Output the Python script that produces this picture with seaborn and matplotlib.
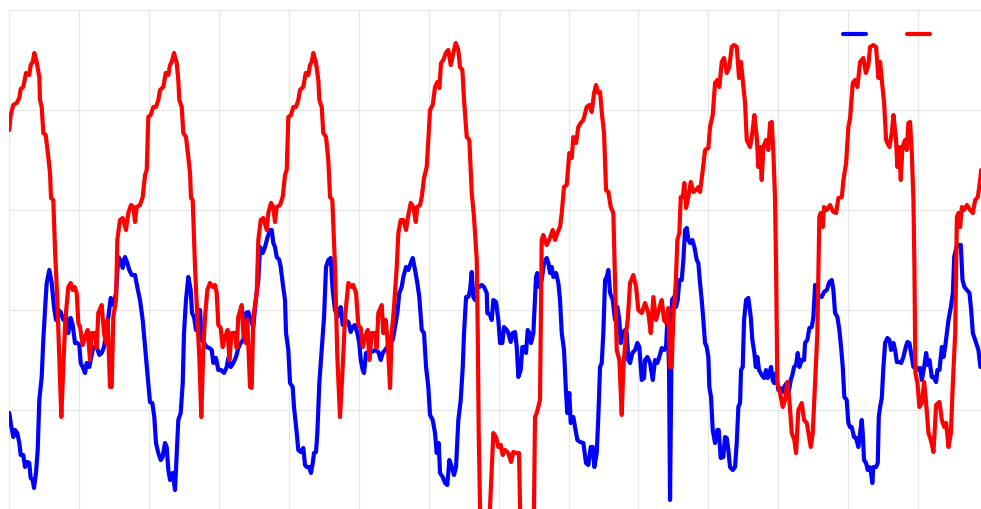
import numpy as np
import pandas as pd
import seaborn as sns
import matplotlib
matplotlib.use('Agg')
import matplotlib.pyplot as plt

# hours since start / value
red_hours = [
    0.0, 0.24, 0.69, 1.27, 1.72, 1.96, 2.40, 2.87, 3.43, 3.67,
    4.02, 4.29, 4.70, 5.15, 5.27, 5.56, 5.84, 6.25, 6.70, 6.99,
    7.16, 7.55, 7.85, 8.24, 8.58, 8.93, 9.27, 9.61, 10.13, 10.54,
    10.88, 11.23, 11.57, 11.85, 12.14, 12.60, 13.00, 13.46, 13.85, 14.15,
    14.71, 15.00, 15.28, 15.86, 16.26, 16.60, 16.89, 17.29, 17.58, 17.85,
    18.32, 18.54, 19.00, 19.47, 20.03, 20.43, 20.89, 21.29, 21.58, 21.87,
    22.44, 22.90, 23.30, 23.59, 23.86, 24.27, 24.72, 25.18, 25.58, 25.87,
    26.44, 26.85, 27.30, 27.59, 27.88, 28.27,
    28.74, 29.01, 29.18, 29.60, 29.87, 30.33, 30.73, 31.02, 31.19, 31.48,
    31.88, 32.27, 32.62, 32.96, 33.30, 33.60, 33.99, 34.45, 34.92, 35.31,
    35.60, 35.88, 36.29, 36.63, 37.03, 37.49, 37.77, 38.18, 38.75, 39.04,
    39.31, 39.90, 40.17, 40.58, 40.86, 41.32, 41.61, 41.89, 42.47, 42.75,
    43.16, 43.60, 44.19, 44.46, 44.93, 45.32, 45.61, 45.90, 46.47, 46.93,
    47.33, 47.62, 47.90, 48.36, 48.75, 49.22, 49.61, 49.90, 50.47, 50.88,
    51.33, 51.62, 51.91, 52.19,
    52.65, 53.05, 53.22, 53.63, 53.90, 54.37, 54.76, 55.06, 55.45, 55.91,
    56.31, 56.77, 57.23, 57.63, 58.20, 58.78, 59.05, 59.52, 59.91, 60.33,
    60.67, 61.06, 61.53, 61.80, 62.21, 62.78, 63.07, 63.35, 63.93, 64.21,
    64.62, 64.96, 65.36, 65.65, 66.04, 66.51, 66.78, 67.19, 67.64, 68.10,
    68.50, 68.91, 69.36, 69.77, 70.04, 70.51, 70.80, 71.19, 71.65, 71.93,
    72.22, 72.68, 73.08, 73.47, 73.82, 74.11, 74.51, 74.92, 75.36, 75.78,
    76.22, 76.63, 77.08, 77.37, 77.77, 78.06, 78.52, 78.97, 79.38, 79.77,
    80.24, 80.41, 80.58, 80.80, 80.98, 82.35, 82.52, 83.09, 83.55, 83.95,
    84.36, 84.70, 85.10, 85.66, 86.13, 86.52, 87.11, 87.50, 87.67, 87.84,
    89.90, 90.07, 90.24, 90.54, 91.10, 91.27, 91.39, 91.67, 92.25, 92.82,
    93.28, 93.68, 94.08, 94.54, 94.83, 95.22, 95.69, 96.13, 96.55, 96.82,
    97.29, 97.68, 98.09, 98.54, 99.12, 99.57, 99.98, 100.38, 100.72, 101.11,
    101.41, 101.75, 102.09, 102.44, 102.83, 103.24, 103.69, 103.98, 104.27, 104.72,
    105.13, 105.41, 105.87, 106.16, 106.56, 107.12, 107.59, 107.98, 108.57, 109.13,
    109.70, 110.11, 110.56, 111.02, 111.59, 112.00, 112.39, 112.74, 113.13, 113.42,
    113.71, 113.99, 114.40, 114.68, 115.02, 115.26, 115.60, 115.88, 116.17, 116.56,
    116.98, 117.42, 117.89, 118.28, 118.57, 119.04, 119.43, 120.00, 120.29, 120.75,
    121.15, 121.54, 121.89, 122.30, 122.69, 123.16, 123.60, 124.01, 124.41, 124.87,
    125.27, 125.61, 125.90, 126.30, 126.59, 127.16, 127.55, 127.90, 128.31, 128.58,
    128.87, 129.16, 129.44, 129.90, 130.30, 130.59, 130.88, 131.16, 131.45, 131.62,
    131.74, 131.84, 132.31, 132.77, 133.16, 133.56, 133.90, 134.32, 134.76, 135.05,
    135.45, 136.03, 136.43, 136.89, 137.58, 137.92, 138.32, 138.71, 139.05, 139.29,
    139.64, 139.86, 140.33, 140.89, 141.46, 141.93, 142.32, 142.91, 143.18, 143.65,
    144.03, 144.33, 144.79, 145.19, 145.58, 146.05, 146.61, 147.03, 147.47, 147.76,
    148.33, 148.79, 149.19, 149.48, 149.77, 150.17, 150.51, 151.08, 151.49, 151.77,
    152.18, 152.45, 152.74, 153.03, 153.31, 153.77, 154.06, 154.34, 154.63, 154.92,
    155.20, 155.37, 155.54, 155.89, 156.23, 156.64, 157.04, 157.38, 157.78, 158.19,
    158.64, 159.10, 159.67, 160.08, 160.48, 160.82, 161.22, 161.63, 161.97, 162.37,
    162.66, 162.93, 163.22, 163.51, 163.91, 164.37, 164.94, 165.40, 165.80, 166.26,
    166.66, 166.83,
]
red_values = [
    38.0, 39.5, 40.5, 40.7, 41.2, 42.1, 42.3, 43.7, 43.5, 44.5,
    44.8, 45.7, 44.8, 43.3, 41.0, 40.3, 37.7, 37.5, 35.3, 33.7,
    31.2, 31.0, 26.0, 21.0, 15.3, 9.3, 14.3, 19.0, 22.3, 22.7,
    22.0, 22.3, 21.7, 18.7, 18.3, 16.5, 17.3, 18.0, 15.0, 17.7,
    17.7, 16.2, 19.7, 20.5, 17.7, 16.7, 19.0, 12.3, 12.3, 19.3,
    21.0, 27.0, 29.0, 29.2, 28.0, 29.7, 30.5, 30.3, 28.8, 30.3,
    30.5, 31.3, 33.5, 34.0, 39.3, 39.5, 40.3, 40.3, 41.0, 42.0,
    42.3, 43.7, 43.5, 44.5, 44.8, 45.7,
    44.7, 43.0, 41.0, 40.3, 37.7, 37.3, 35.3, 33.7, 31.2, 31.0,
    24.3, 19.3, 15.3, 9.3, 16.0, 19.3, 22.0, 22.7, 22.3, 22.5,
    21.7, 18.5, 18.2, 16.3, 17.3, 18.0, 15.0, 17.7, 17.7, 16.2,
    19.3, 20.5, 17.7, 16.7, 19.0, 12.3, 12.2, 19.3, 21.7, 27.0,
    29.0, 29.2, 28.0, 29.7, 30.7, 30.3, 28.8, 30.3, 30.5, 31.3,
    33.5, 34.0, 39.3, 39.5, 40.3, 40.3, 41.0, 42.0, 42.3, 43.7,
    43.5, 44.5, 44.8, 45.7,
    44.7, 43.0, 41.0, 40.3, 37.7, 37.3, 35.0, 31.3, 31.0, 24.3,
    15.3, 9.3, 14.3, 19.3, 22.7, 22.3, 22.5, 21.7, 18.5, 18.2,
    16.3, 17.3, 18.0, 15.0, 17.7, 17.7, 16.2, 19.7, 20.5, 17.7,
    19.0, 16.7, 12.2, 17.7, 20.3, 24.3, 27.7, 29.0, 29.0, 28.0,
    29.5, 30.7, 30.3, 28.8, 30.3, 30.5, 31.3, 33.2, 34.3, 37.0,
    40.0, 40.5, 42.3, 42.8, 42.2, 44.7, 45.0, 45.7, 46.0, 44.5,
    45.7, 46.7, 46.0, 44.3, 44.0, 41.0, 37.3, 37.0, 31.7, 29.3,
    25.0, 17.7, 7.7, 0.3, -3.0, -3.0, 0.3, 7.7, 7.3, 6.3,
    6.5, 5.5, 6.0, 5.7, 4.8, 5.8, 5.7, 5.7, 0.3, -3.0,
    -3.0, 0.3, 9.3, 9.7, 11.0, 21.0, 27.0, 27.5, 26.5, 27.2,
    28.0, 27.0, 27.7, 28.3, 29.7, 32.3, 32.5, 35.7, 35.2, 37.3,
    36.7, 38.3, 38.7, 39.0, 40.3, 40.5, 39.8, 41.7, 42.5, 41.7,
    41.8, 39.5, 37.7, 32.0, 31.8, 30.3, 29.7, 22.7, 16.0, 15.0,
    9.5, 14.3, 17.7, 19.0, 22.7, 23.5, 22.3, 20.0, 19.7, 20.7,
    19.7, 17.7, 21.3, 19.0, 20.2, 21.0, 19.0, 18.7, 20.2, 14.3,
    14.3, 19.3, 22.7, 27.0, 27.7, 31.3, 31.3, 32.7, 30.2, 31.3,
    32.8, 31.8, 32.0, 32.3, 31.8, 34.0, 36.0, 36.2, 38.3, 39.5,
    42.7, 43.0, 42.3, 44.8, 45.2, 43.7, 44.3, 46.3, 46.5, 46.3,
    43.2, 44.8, 43.0, 40.7, 37.0, 36.3, 37.7, 39.5, 37.3, 34.3,
    36.3, 33.0, 36.3, 37.0, 36.0, 38.7, 38.8, 35.7, 31.0, 24.3,
    17.7, 12.7, 11.7, 10.3, 11.0, 12.8, 11.0, 7.7, 7.0, 5.7,
    10.0, 10.7, 9.0, 8.7, 6.3, 7.7, 12.7, 17.7, 29.3, 29.7,
    28.3, 30.3, 30.0, 30.5, 29.8, 29.7, 31.2, 31.3, 33.0, 34.7,
    38.3, 39.2, 42.7, 43.0, 42.3, 44.8, 45.2, 43.7, 44.5, 46.3,
    46.5, 46.3, 43.2, 44.8, 43.0, 40.7, 37.0, 36.3, 37.7, 39.5,
    37.3, 34.3, 36.3, 33.0, 36.3, 37.0, 36.0, 38.7, 38.8, 35.7,
    31.0, 24.3, 13.7, 12.7, 10.3, 10.7, 12.8, 10.7, 7.7, 7.0,
    5.8, 10.5, 10.8, 9.0, 8.3, 8.7, 6.3, 7.7, 12.7, 17.7,
    29.3, 29.7, 28.3, 30.3, 30.0, 30.5, 30.0, 29.7, 31.0, 31.3,
    33.0, 34.0,
]

blue_hours = [
    0.0, 0.24, 0.69, 0.98, 1.37, 1.72, 1.96, 2.40, 2.70, 3.09,
    3.43, 3.67, 4.02, 4.24, 4.58, 4.88, 5.15, 5.56, 5.84, 6.13,
    6.42, 6.87, 7.28, 7.67, 8.02, 8.41, 8.82, 9.27, 9.73, 10.13,
    10.54, 10.88, 11.28, 11.67, 12.02, 12.26, 12.60, 13.00, 13.29, 13.73,
    13.97, 14.42, 15.00, 15.45, 15.86, 16.26, 16.60, 17.00, 17.41, 17.85,
    18.32, 18.71, 19.12, 19.47, 19.86, 20.26, 20.60, 21.01, 21.58, 21.97,
    22.44, 22.90, 23.30, 23.76, 24.15, 24.55, 24.89, 25.18, 25.58, 25.99,
    26.33, 26.73, 27.02, 27.30, 27.59, 28.05, 28.45, 28.74, 29.01, 29.42,
    29.77, 29.99, 30.33, 30.73, 31.14, 31.36, 31.71, 32.05, 32.45, 32.74,
    33.03, 33.42, 33.89, 34.33, 34.75, 35.02, 35.48, 35.88, 36.34, 36.86,
    37.32, 37.60, 38.01, 38.45, 38.92, 39.31, 39.72, 40.17, 40.63, 41.03,
    41.44, 41.89, 42.30, 42.75, 43.04, 43.50, 43.90, 44.29, 44.75, 45.05,
    45.32, 45.61, 45.90, 46.35, 46.59, 46.93, 47.33, 47.50, 47.90, 48.19,
    48.65, 48.87, 49.34, 49.61, 50.02, 50.47, 50.76, 51.05, 51.45, 51.79,
    52.09, 52.31, 52.65, 52.88, 53.22, 53.63, 54.03, 54.37, 54.76, 55.17,
    55.51, 55.91, 56.31, 56.65, 56.89, 57.23, 57.63, 58.20, 58.61, 58.95,
    59.35, 59.74, 60.08, 60.33, 60.67, 60.89, 61.24, 61.63, 62.21, 62.78,
    63.35, 63.76, 64.10, 64.50, 64.89, 65.36, 65.82, 66.21, 66.61, 66.95,
    67.36, 67.64, 68.10, 68.50, 68.79, 69.25, 69.65, 70.04, 70.38, 70.80,
    71.19, 71.54, 71.93, 72.22, 72.68, 73.08, 73.37, 73.71, 73.94, 74.40,
    74.80, 75.19, 75.54, 75.95, 76.34, 76.69, 77.08, 77.49, 77.84, 78.06,
    78.41, 78.80, 79.09, 79.38, 79.65, 79.94, 80.34, 80.68, 81.10, 81.49,
    81.96, 82.06, 82.52, 82.81, 83.09, 83.55, 83.95, 84.24, 84.63, 84.92,
    85.39, 85.66, 86.07, 86.42, 86.81, 87.11, 87.38, 87.79, 88.07, 88.41,
    88.70, 88.99, 89.27, 89.56, 89.96, 90.42, 90.64, 90.98, 91.39, 91.79,
    92.25, 92.53, 92.82, 93.11, 93.39, 93.85, 94.25, 94.54, 94.83, 95.22,
    95.57, 95.79, 96.13, 96.37, 96.82, 97.11, 97.51, 97.97, 98.54, 99.00,
    99.40, 99.81, 100.15, 100.43, 100.84, 101.11, 101.41, 101.70, 101.97, 102.27,
    102.56, 102.83, 103.13, 103.59, 103.98, 104.38, 104.72, 104.96, 105.30, 105.70,
    105.99, 106.26, 106.56, 106.95, 107.42, 107.81, 108.15, 108.57, 108.96, 109.13,
    109.53, 109.99, 110.45, 110.85, 111.24, 111.59, 112.00, 112.39, 112.74, 112.96,
    113.25, 113.42, 113.59, 113.76, 114.10, 114.45, 114.74, 115.02, 115.43, 115.71,
    116.00, 116.29, 116.57, 116.86, 117.25, 117.60, 118.01, 118.28, 118.57, 118.86,
    119.14, 119.43, 119.72, 120.00, 120.17, 120.46, 120.75, 121.15, 121.54, 121.78,
    122.12, 122.57, 122.86, 123.16, 123.43, 123.72, 124.19, 124.58, 124.87, 125.15,
    125.44, 125.61, 125.90, 126.13, 126.47, 126.86, 127.28, 127.55, 127.90, 128.14,
    128.41, 128.70, 129.16, 129.56, 129.90, 130.19, 130.47, 130.76, 131.05, 131.28,
    131.62, 132.02, 132.31, 132.77, 133.00, 133.46, 133.80, 134.14, 134.42, 134.71,
    135.05, 135.34, 135.62, 136.03, 136.43, 136.60, 136.99, 137.34, 137.75, 138.03,
    138.32, 138.61, 138.88, 139.46, 139.86, 140.33, 140.77, 141.18, 141.46, 141.75,
    142.15, 142.49, 142.78, 143.07, 143.34, 143.75, 144.03, 144.32, 144.61, 145.00,
    145.35, 145.75, 146.04, 146.33, 146.50, 146.72, 147.07, 147.36, 147.64, 147.93,
    148.15, 148.32, 148.79, 149.08, 149.25, 149.48, 149.77, 150.05, 150.34, 150.74,
    151.08, 151.37, 151.77, 152.06, 152.35, 152.74, 153.09, 153.48, 153.89, 154.17,
    154.51, 154.80, 155.20, 155.66, 156.06, 156.35, 156.64, 157.04, 157.38, 157.67,
    157.95, 158.36, 158.64, 159.10, 159.32, 159.67, 159.91, 160.08, 160.36, 160.65,
    160.94, 161.22, 161.63, 161.97, 162.20, 162.54, 162.93, 163.34, 163.62, 163.96,
    164.37, 164.82, 165.11, 165.40, 165.62, 165.97, 166.36, 166.70,
]
blue_values = [
    9.7, 8.7, 7.3, 8.0, 7.7, 6.7, 5.5, 5.5, 4.3, 4.8,
    4.7, 3.2, 3.0, 2.2, 3.7, 6.0, 11.0, 13.3, 17.0, 20.0,
    22.7, 24.0, 22.7, 20.3, 19.0, 20.0, 19.8, 19.0, 19.5, 17.7,
    19.2, 18.5, 16.7, 16.7, 16.5, 14.7, 14.3, 13.7, 14.7, 14.3,
    15.0, 16.3, 16.3, 15.5, 15.7, 16.3, 17.7, 19.3, 21.2, 20.5,
    21.7, 25.3, 25.0, 24.2, 25.3, 24.7, 24.0, 23.5, 23.5, 22.3,
    21.0, 19.0, 16.3, 13.3, 10.8, 10.7, 9.3, 6.7, 5.7, 5.0,
    5.3, 6.7, 6.3, 4.0, 3.0, 3.7, 2.0, 5.7, 9.0, 9.7,
    12.7, 17.7, 21.0, 23.3, 22.0, 19.7, 19.3, 18.0, 19.0, 20.0,
    17.0, 16.7, 16.3, 16.2, 16.0, 14.7, 15.2, 14.0, 14.0, 13.7,
    14.3, 15.2, 14.3, 14.7, 15.3, 16.2, 16.7, 17.0, 19.7, 19.8,
    19.0, 18.3, 21.0, 23.0, 26.3, 25.7, 26.3, 27.2, 28.0, 28.0,
    26.7, 26.3, 25.3, 25.0, 24.3, 22.7, 21.0, 17.7, 16.0, 12.7,
    12.3, 10.3, 7.7, 6.0, 5.8, 6.2, 4.5, 4.3, 4.3, 3.7,
    4.7, 5.7, 5.8, 7.7, 12.7, 16.0, 19.3, 24.3, 25.0, 25.2,
    22.0, 20.0, 19.3, 20.0, 20.3, 18.5, 19.0, 18.8, 17.8, 18.3,
    18.5, 17.7, 16.7, 15.0, 14.0, 13.7, 15.7, 15.8, 15.8, 16.0,
    15.8, 15.0, 15.7, 16.0, 16.3, 17.3, 17.0, 18.3, 19.7, 21.7,
    22.3, 23.3, 24.3, 24.0, 24.5, 25.2, 24.0, 22.7, 21.3, 18.0,
    17.7, 14.3, 12.3, 9.5, 9.0, 7.7, 5.7, 6.7, 3.7, 3.3,
    2.7, 2.5, 5.0, 4.3, 3.5, 4.3, 9.0, 11.0, 14.3, 17.7,
    21.3, 21.3, 22.0, 23.8, 21.3, 21.0, 22.5, 22.3, 22.5, 22.3,
    21.7, 19.7, 19.5, 19.0, 21.0, 20.8, 19.0, 16.7, 16.7, 18.3,
    18.0, 17.7, 16.8, 17.7, 17.8, 16.3, 13.3, 14.0, 16.3, 16.3,
    15.7, 18.0, 17.7, 16.7, 17.7, 23.3, 23.7, 22.3, 23.0, 24.7,
    25.2, 24.7, 23.7, 24.3, 23.3, 23.7, 22.7, 21.0, 17.7, 16.0,
    11.7, 9.7, 11.7, 8.7, 9.3, 8.3, 7.0, 6.8, 6.7, 4.7,
    4.5, 6.3, 6.3, 4.3, 5.7, 9.3, 14.3, 14.7, 17.7, 23.0,
    23.3, 24.0, 21.7, 21.0, 19.0, 20.3, 19.0, 16.7, 17.7, 18.0,
    17.7, 15.0, 14.7, 15.7, 16.0, 16.7, 16.3, 13.0, 13.2, 15.0,
    15.3, 14.7, 13.0, 15.0, 14.7, 15.3, 16.2, 16.0, 16.3, 19.0,
    14.3, 1.0, 11.0, 21.0, 21.3, 20.3, 21.0, 23.0, 23.0, 25.0,
    28.0, 28.2, 27.0, 26.7, 27.0, 26.3, 25.0, 24.7, 22.7, 21.0,
    19.0, 16.7, 16.3, 15.3, 12.3, 11.3, 8.0, 6.7, 8.0, 8.0,
    5.2, 5.3, 7.3, 7.2, 6.0, 4.3, 4.0, 4.3, 6.7, 10.3,
    10.7, 14.0, 14.3, 19.0, 21.0, 21.2, 19.3, 17.0, 15.7, 14.3,
    15.3, 14.0, 13.5, 13.2, 14.0, 13.2, 13.7, 14.3, 13.0, 12.7,
    13.7, 12.0, 12.2, 11.8, 12.3, 12.7, 11.8, 13.0, 13.5, 14.3,
    14.5, 15.7, 14.3, 15.0, 15.0, 16.7, 17.0, 18.2, 18.3, 19.3,
    22.5, 22.0, 21.5, 21.3, 21.8, 22.0, 22.8, 23.0, 22.0, 19.7,
    19.3, 18.0, 16.3, 14.3, 11.3, 11.0, 8.7, 8.3, 8.3, 7.3,
    7.2, 6.3, 7.7, 9.0, 7.7, 5.0, 4.7, 4.0, 4.3, 3.7,
    2.7, 4.3, 4.3, 4.7, 9.3, 10.3, 11.2, 14.3, 16.7, 17.2,
    17.0, 16.0, 16.7, 16.0, 14.8, 14.8, 14.7, 15.3, 16.3, 16.8,
    16.7, 15.7, 14.3, 14.3, 14.0, 14.2, 13.0, 14.3, 15.7, 14.5,
    15.0, 13.3, 13.3, 12.8, 14.0, 14.0, 15.3, 16.3, 15.3, 16.3,
    17.7, 19.0, 20.3, 21.7, 25.3, 26.2, 26.5, 26.5, 23.0, 22.3,
    22.0, 21.7, 20.0, 17.7, 17.3, 16.7, 16.0, 14.3,
]

df = pd.concat([
    pd.DataFrame({'hours': blue_hours, 'value': blue_values, 'series': 'series 1'}),
    pd.DataFrame({'hours': red_hours, 'value': red_values, 'series': 'series 2'}),
])

sns.set_style('white')

fig = plt.figure(figsize=(9.81, 5.09), dpi=100)
ax = fig.add_axes([9.3 / 981, -1 / 509, 971.7 / 981, 500 / 509])

sns.lineplot(
    df, x='hours', y='value', hue='series',
    palette={'series 1': '#0000ff', 'series 2': '#ff0000'},
    estimator=None, sort=False, linewidth=3, legend=False, ax=ax,
)
for line in ax.get_lines():
    line.set_solid_joinstyle('round')
    line.set_solid_capstyle('round')

ax.set_xlim(0, 166.8)
ax.set_ylim(0, 50)
ax.set_xticks(np.arange(0, 167, 12))
ax.set_yticks(np.arange(0, 51, 10))
ax.grid(True, color='#e6e6e6', linewidth=0.8)
ax.set_axisbelow(True)
ax.tick_params(length=0, labelbottom=False, labelleft=False)
ax.set_xlabel('')
ax.set_ylabel('')
for s in ax.spines.values():
    s.set_visible(False)

# legend: two bare line handles, no text (as in the original)
handles = ax.get_lines()[:2]
ax.legend(
    handles, ['', ''], ncol=2, frameon=False,
    handlelength=1.66, handletextpad=0, columnspacing=2.95,
    borderpad=0, borderaxespad=0,
    loc='center left', bbox_to_anchor=(843 / 981, 1 - 34.5 / 509),
    bbox_transform=fig.transFigure,
)

fig.savefig('out.png', dpi=100)
